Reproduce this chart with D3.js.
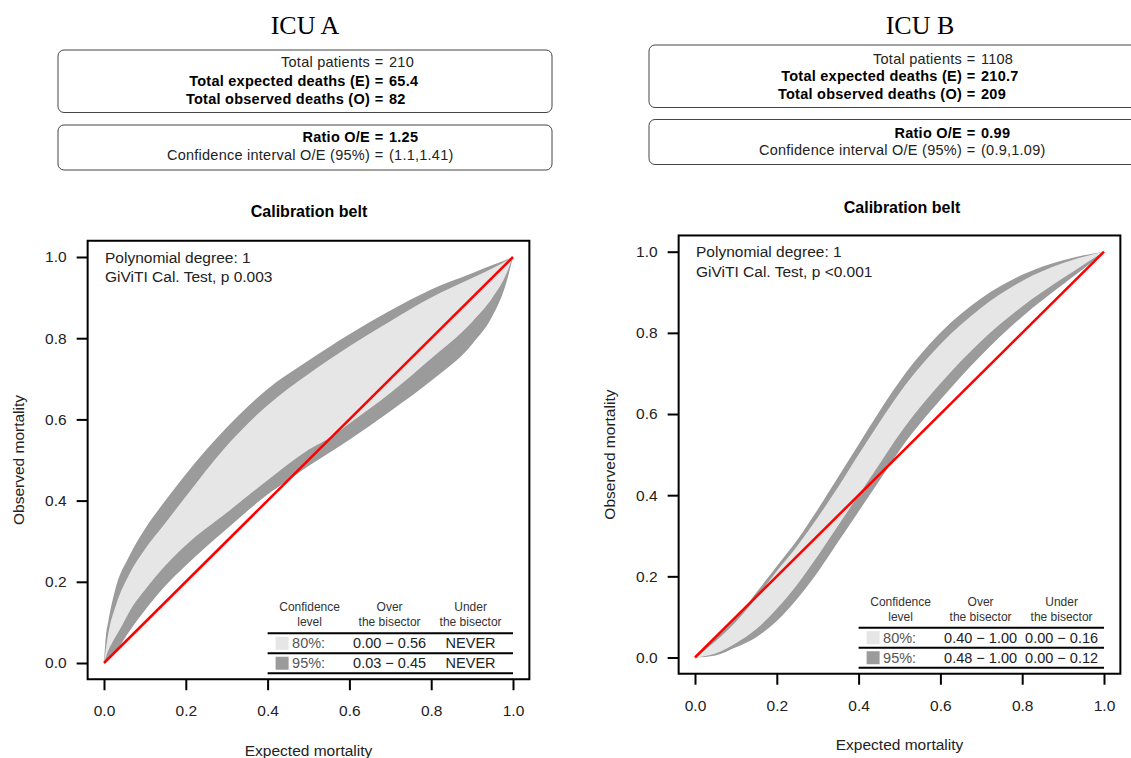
<!DOCTYPE html>
<html>
<head>
<meta charset="utf-8">
<script src="https://cdn.jsdelivr.net/npm/d3@7"></script>
<style>
  body { margin: 0; background: #fff; }
  svg { display: block; font-family: "Liberation Sans", Arial, sans-serif; }
</style>
</head>
<body>
<svg width="1131" height="758"></svg>
<script>
// ---- data ----
const ticks = [0, 0.2, 0.4, 0.6, 0.8, 1.0];
const bisector = [0, 1];

const upper95A = [[0,0],[0.005,0.07],[0.01,0.10],[0.03,0.19],[0.06,0.26],[0.1,0.33],[0.15,0.40],[0.2,0.465],[0.3,0.58],[0.4,0.675],[0.5,0.745],[0.6,0.81],[0.7,0.868],[0.8,0.92],[0.9,0.96],[0.95,0.98],[1,1]];
const upper80A = [[0,0],[0.01,0.07],[0.03,0.145],[0.06,0.215],[0.1,0.28],[0.15,0.345],[0.2,0.41],[0.3,0.535],[0.4,0.635],[0.5,0.712],[0.6,0.78],[0.7,0.842],[0.8,0.9],[0.9,0.948],[0.95,0.972],[1,1]];
const lower80A = [[0,0],[0.01,0.03],[0.02,0.05],[0.04,0.085],[0.07,0.14],[0.1,0.18],[0.15,0.24],[0.2,0.29],[0.3,0.37],[0.4,0.45],[0.5,0.525],[0.56,0.56],[0.6,0.59],[0.7,0.665],[0.8,0.75],[0.9,0.84],[0.95,0.9],[0.98,0.95],[1,1]];
const lower95A = [[0,0],[0.01,0.008],[0.03,0.03],[0.06,0.075],[0.1,0.13],[0.15,0.19],[0.2,0.24],[0.3,0.33],[0.4,0.415],[0.45,0.45],[0.5,0.485],[0.6,0.55],[0.7,0.62],[0.8,0.695],[0.9,0.785],[0.95,0.855],[0.98,0.925],[1,1]];

const upper95B = [[0,0],[0.05,0.047],[0.1,0.097],[0.12,0.12],[0.15,0.16],[0.2,0.225],[0.25,0.29],[0.3,0.365],[0.35,0.445],[0.4,0.525],[0.45,0.605],[0.5,0.68],[0.6,0.8],[0.7,0.885],[0.8,0.943],[0.9,0.979],[1,1]];
const upper80B = [[0,0],[0.05,0.04],[0.1,0.088],[0.16,0.16],[0.2,0.213],[0.25,0.275],[0.3,0.345],[0.35,0.42],[0.4,0.5],[0.45,0.578],[0.5,0.652],[0.6,0.772],[0.7,0.862],[0.8,0.928],[0.9,0.972],[1,1]];
const lower80B = [[0,0],[0.05,0.01],[0.1,0.035],[0.15,0.07],[0.2,0.12],[0.25,0.18],[0.3,0.25],[0.35,0.325],[0.4,0.4],[0.45,0.475],[0.5,0.55],[0.6,0.675],[0.7,0.78],[0.8,0.865],[0.9,0.935],[0.95,0.968],[1,1]];
const lower95B = [[0,0],[0.05,0.005],[0.1,0.025],[0.15,0.05],[0.2,0.09],[0.25,0.145],[0.3,0.21],[0.35,0.285],[0.4,0.36],[0.48,0.48],[0.5,0.51],[0.6,0.635],[0.7,0.745],[0.8,0.84],[0.9,0.92],[0.95,0.958],[1,1]];

const statLabels = ['Total patients', 'Total expected deaths (E)', 'Total observed deaths (O)'];
const statBold = [false, true, true];
const statValuesA = ['210', '65.4', '82'];
const statValuesB = ['1108', '210.7', '209'];
const ratioLabels = ['Ratio O/E', 'Confidence interval O/E (95%)'];
const ratioBold = [true, false];
const ratioValuesA = ['1.25', '(1.1,1.41)'];
const ratioValuesB = ['0.99', '(0.9,1.09)'];
const testTextA = ['Polynomial degree: 1', 'GiViTI Cal. Test, p 0.003'];
const testTextB = ['Polynomial degree: 1', 'GiViTI Cal. Test, p <0.001'];

const legendHead = [['Confidence', 'level'], ['Over', 'the bisector'], ['Under', 'the bisector']];
const levels = ['80%:', '95%:'];
const overA = ['0.00 \u2212 0.56', '0.03 \u2212 0.45'];
const underA = ['NEVER', 'NEVER'];
const overB = ['0.40 \u2212 1.00', '0.48 \u2212 1.00'];
const underB = ['0.00 \u2212 0.16', '0.00 \u2212 0.12'];

// ---- layout ----
const panels = [
  { id: 'A', title: 'ICU A', titleX: 305, x0: 104, x1: 513, y0: 663, y1: 257,
    boxX: 58, boxW: 494, box1: [50, 112.5], box2: [125, 170], eqX: 379,
    statY: [62, 80.7, 98.5], ratioY: [137, 155], beltTitle: [309, 211],
    belt: [upper95A, upper80A, lower80A, lower95A],
    stats: statValuesA, ratios: ratioValuesA, test: testTextA, over: overA, under: underA },
  { id: 'B', title: 'ICU B', titleX: 920, x0: 695, x1: 1104, y0: 657.5, y1: 251.7,
    boxX: 649, boxW: 494, box1: [45, 107.5], box2: [119.5, 164.5], eqX: 971,
    statY: [58.5, 76, 93.5], ratioY: [132.5, 150], beltTitle: [902, 207],
    belt: [upper95B, upper80B, lower80B, lower95B],
    stats: statValuesB, ratios: ratioValuesB, test: testTextB, over: overB, under: underB }
];

const svg = d3.select('svg');
const defs = svg.append('defs');

panels.forEach(p => {
  const g = svg.append('g');
  const x = d3.scaleLinear().domain([0, 1]).range([p.x0, p.x1]);
  const y = d3.scaleLinear().domain([0, 1]).range([p.y0, p.y1]);
  const left = x(-0.04), right = x(1.04), top = y(1.04), bottom = y(-0.04);

  // header
  g.append('text')
    .attr('x', p.titleX).attr('y', 33.5)
    .attr('text-anchor', 'middle')
    .style('font-family', '"Liberation Serif", "Times New Roman", serif')
    .style('font-size', '26px')
    .text(p.title);

  [p.box1, p.box2].forEach(b => {
    g.append('rect')
      .attr('x', p.boxX).attr('y', b[0])
      .attr('width', p.boxW).attr('height', b[1] - b[0])
      .attr('rx', 6).attr('ry', 6)
      .attr('fill', 'none').attr('stroke', '#444').attr('stroke-width', 1);
  });

  const infoLine = (cy, label, value, bold) => {
    const t = g.append('g')
      .style('font-size', '14.5px')
      .style('letter-spacing', '0.25px')
      .style('font-weight', bold ? 'bold' : 'normal')
      .attr('fill', bold ? '#000' : '#222');
    t.append('text').attr('x', p.eqX - 9).attr('y', cy + 5).attr('text-anchor', 'end').text(label);
    t.append('text').attr('x', p.eqX).attr('y', cy + 5).attr('text-anchor', 'middle').text('=');
    t.append('text').attr('x', p.eqX + 10).attr('y', cy + 5).text(value);
  };
  statLabels.forEach((l, i) => infoLine(p.statY[i], l, p.stats[i], statBold[i]));
  ratioLabels.forEach((l, i) => infoLine(p.ratioY[i], l, p.ratios[i], ratioBold[i]));

  g.append('text')
    .attr('x', p.beltTitle[0]).attr('y', p.beltTitle[1] + 5.7)
    .attr('text-anchor', 'middle')
    .style('font-size', '16px').style('font-weight', 'bold')
    .text('Calibration belt');

  // belts: band = below upper curve AND above lower curve
  const below = d3.area().x(d => x(d[0])).y0(bottom).y1(d => y(d[1])).curve(d3.curveMonotoneX);
  const above = d3.area().x(d => x(d[0])).y0(top).y1(d => y(d[1])).curve(d3.curveMonotoneX);
  const [u95, u80, l80, l95] = p.belt;
  [[u95, l95, '#9b9b9b', '95'], [u80, l80, '#e6e6e6', '80']].forEach(([up, lo, col, lvl]) => {
    const id = `clip${p.id}${lvl}`;
    defs.append('clipPath').attr('id', id).append('path').attr('d', below(up));
    g.append('path')
      .attr('d', above(lo))
      .attr('fill', col)
      .attr('clip-path', `url(#${id})`);
  });

  // bisector
  g.append('path')
    .datum(bisector)
    .attr('d', d3.line().x(d => x(d)).y(d => y(d)))
    .attr('stroke', '#ff0000').attr('stroke-width', 2.5).attr('fill', 'none');

  // frame
  g.append('rect')
    .attr('x', left).attr('y', top)
    .attr('width', right - left).attr('height', bottom - top)
    .attr('fill', 'none').attr('stroke', '#000').attr('stroke-width', 2);

  // axes
  const xAxis = g.append('g')
    .attr('transform', `translate(0,${bottom})`)
    .call(d3.axisBottom(x).tickValues(ticks).tickFormat(d3.format('.1f')).tickSize(11).tickPadding(15));
  const yAxis = g.append('g')
    .attr('transform', `translate(${left},0)`)
    .call(d3.axisLeft(y).tickValues(ticks).tickFormat(d3.format('.1f')).tickSize(11).tickPadding(10));
  [xAxis, yAxis].forEach(a => {
    a.select('.domain').remove();
    a.selectAll('line').attr('stroke', '#000').attr('stroke-width', 2);
    a.selectAll('text')
      .style('font-size', '15.5px')
      .style('font-family', '"Liberation Sans", Arial, sans-serif')
      .attr('fill', '#222');
  });

  g.append('text')
    .attr('x', x(0.5)).attr('y', bottom + 76.5)
    .attr('text-anchor', 'middle')
    .style('font-size', '15.5px').attr('fill', '#222')
    .text('Expected mortality');

  g.append('text')
    .attr('transform', `translate(${left - 64},${y(0.5)}) rotate(-90)`)
    .attr('text-anchor', 'middle')
    .style('font-size', '15.5px').attr('fill', '#222')
    .text('Observed mortality');

  // test annotation
  p.test.forEach((t, i) => {
    g.append('text')
      .attr('x', x(0) + 1).attr('y', y(1) + 5.5 + i * 19.5)
      .style('font-size', '15.5px').attr('fill', '#222')
      .text(t);
  });

  // legend table
  const lx = x(0.4), rx = x(1.0);
  const cols = [lx + 42, lx + 122, lx + 203];
  [-46, -26, -6].forEach(o => {
    g.append('line')
      .attr('x1', lx).attr('x2', rx)
      .attr('y1', bottom + o).attr('y2', bottom + o)
      .attr('stroke', '#000').attr('stroke-width', 2);
  });
  legendHead.forEach((h, i) => {
    h.forEach((s, j) => {
      g.append('text')
        .attr('x', cols[i]).attr('y', bottom - 72.5 + j * 15 + 4.3)
        .attr('text-anchor', 'middle')
        .style('font-size', '12px').attr('fill', '#333')
        .text(s);
    });
  });
  const swatch = ['#e6e6e6', '#9b9b9b'];
  levels.forEach((lv, i) => {
    const cy = bottom + (i === 0 ? -36 : -16);
    g.append('rect')
      .attr('x', lx + 8).attr('y', cy - 6.5)
      .attr('width', 13).attr('height', 13)
      .attr('fill', swatch[i]);
    g.append('text')
      .attr('x', lx + 24.5).attr('y', cy + 5)
      .style('font-size', '14.5px').attr('fill', '#555')
      .text(lv);
    g.append('text')
      .attr('x', cols[1]).attr('y', cy + 5)
      .attr('text-anchor', 'middle')
      .style('font-size', '14.5px').attr('fill', '#222')
      .text(p.over[i]);
    g.append('text')
      .attr('x', cols[2]).attr('y', cy + 5)
      .attr('text-anchor', 'middle')
      .style('font-size', '14.5px').attr('fill', '#222')
      .text(p.under[i]);
  });
});
</script>
</body>
</html>
